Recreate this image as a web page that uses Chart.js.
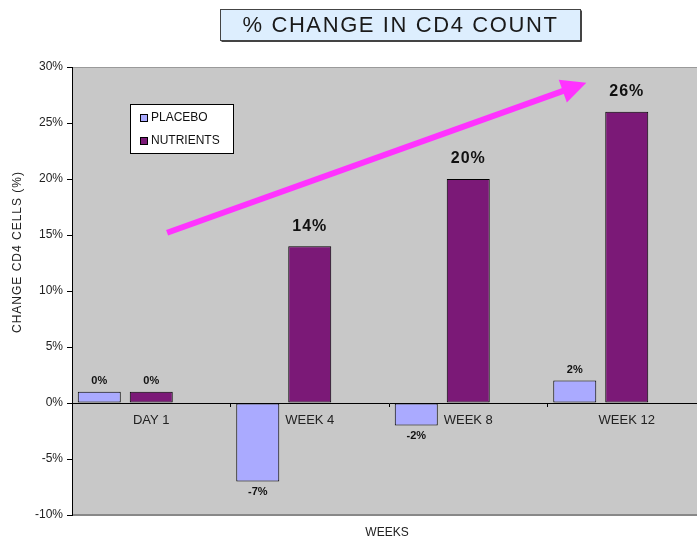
<!DOCTYPE html>
<html>
<head>
<meta charset="utf-8">
<script src="https://cdn.jsdelivr.net/npm/chart.js@4.4.0/dist/chart.umd.min.js"></script>
<style>
html, body { margin: 0; padding: 0; background: #fff; overflow: hidden; }
#wrap { width: 710px; height: 542px; }
</style>
</head>
<body>
<div id="wrap"><canvas id="cd4_chart" width="710" height="542"></canvas></div>
<script>
var categories = ["DAY 1", "WEEK 4", "WEEK 8", "WEEK 12"];
var placebo = [1, -7, -2, 2];
var nutrients = [1, 14, 20, 26];
var placeboLabels = ["0%", "-7%", "-2%", "2%"];
var nutrientLabels = ["0%", "14%", "20%", "26%"];
var yMin = -10, yMax = 30, yStep = 5;
// trend arrow in data units: [category index, percent]
var arrowFrom = [0.1, 15.2];
var arrowTo = [2.745, 28.6];

var FONT = "'Liberation Sans', Arial, sans-serif";
var PLOT_BG = "#c8c8c8";

var decor = {
    id: 'decor',
    beforeDraw: function (chart) {
        var c = chart.ctx, a = chart.chartArea;
        c.save();
        c.fillStyle = PLOT_BG;
        c.fillRect(a.left, a.top, a.right - a.left, a.bottom - a.top);
        c.strokeStyle = "#9a9a9a";
        c.lineWidth = 1;
        c.beginPath();
        c.moveTo(a.left, a.top + 0.5); c.lineTo(a.right, a.top + 0.5);
        c.stroke();
        c.strokeStyle = "#888";
        c.lineWidth = 2;
        c.beginPath();
        c.moveTo(a.left, a.bottom); c.lineTo(a.right, a.bottom);
        c.stroke();
        c.restore();
    },
    afterDatasetsDraw: function (chart) {
        var c = chart.ctx, a = chart.chartArea;
        var xs = chart.scales.x, ys = chart.scales.y;
        c.save();

        // value labels
        c.fillStyle = "#111";
        c.textAlign = "center";
        c.textBaseline = "middle";
        chart.getDatasetMeta(0).data.forEach(function (bar, i) {
            c.font = "bold 11px " + FONT;
            var y = placebo[i] >= 0 ? bar.y - 11 : bar.y + 11;
            c.fillText(placeboLabels[i], bar.x, y);
        });
        chart.getDatasetMeta(1).data.forEach(function (bar, i) {
            var big = nutrients[i] > 5;
            c.font = big ? "bold 16px " + FONT : "bold 11px " + FONT;
            c.letterSpacing = big ? "1px" : "0px";
            c.fillText(nutrientLabels[i], bar.x, bar.y - (big ? 20 : 11));
        });
        c.letterSpacing = "0px";

        // trend arrow
        var x1 = xs.getPixelForValue(arrowFrom[0]), y1 = ys.getPixelForValue(arrowFrom[1]);
        var x2 = xs.getPixelForValue(arrowTo[0]), y2 = ys.getPixelForValue(arrowTo[1]);
        var ang = Math.atan2(y2 - y1, x2 - x1);
        var headLen = 25, headW = 12;
        var bx = x2 - headLen * Math.cos(ang), by = y2 - headLen * Math.sin(ang);
        c.strokeStyle = "#ff33ff";
        c.fillStyle = "#ff33ff";
        c.lineWidth = 6;
        c.beginPath();
        c.moveTo(x1, y1);
        c.lineTo(bx + 2 * Math.cos(ang), by + 2 * Math.sin(ang));
        c.stroke();
        c.beginPath();
        c.moveTo(x2, y2);
        c.lineTo(bx + headW * Math.sin(ang), by - headW * Math.cos(ang));
        c.lineTo(bx - headW * Math.sin(ang), by + headW * Math.cos(ang));
        c.closePath();
        c.fill();

        // legend box inside plot
        var lx = a.left + 58, ly = a.top + 37;
        c.fillStyle = "#fff";
        c.fillRect(lx + 0.5, ly + 0.5, 103, 49);
        c.strokeStyle = "#000";
        c.lineWidth = 1;
        c.strokeRect(lx + 0.5, ly + 0.5, 103, 49);
        c.font = "12px " + FONT;
        c.textAlign = "left";
        c.textBaseline = "middle";
        chart.data.datasets.slice(0, 2).forEach(function (ds, i) {
            var ry = ly + 14 + i * 23;
            c.fillStyle = ds.backgroundColor;
            c.fillRect(lx + 10.5, ry - 3.5, 7, 7);
            c.strokeStyle = "#000";
            c.strokeRect(lx + 10.5, ry - 3.5, 7, 7);
            c.fillStyle = "#111";
            c.fillText(ds.label, lx + 21, ry);
        });

        // axis titles
        c.fillStyle = "#222";
        c.textAlign = "center";
        c.font = "12px " + FONT;
        c.fillText("WEEKS", (a.left + a.right) / 2 - 2, 533);
        c.save();
        c.translate(18, 252);
        c.rotate(-Math.PI / 2);
        c.letterSpacing = "1px";
        c.fillText("CHANGE CD4 CELLS (%)", 0, 0);
        c.restore();

        // chart title box
        var tx = 220.5, ty = 9.5, tw = 360, th = 31;
        c.fillStyle = "#ddeefe";
        c.fillRect(tx, ty, tw, th);
        c.strokeStyle = "#444";
        c.lineWidth = 1;
        c.strokeRect(tx, ty, tw, th);
        c.beginPath();
        c.moveTo(tx + 1, ty + th + 1); c.lineTo(tx + tw + 1, ty + th + 1); c.lineTo(tx + tw + 1, ty + 1);
        c.stroke();
        c.fillStyle = "#1a1a1a";
        c.font = "22px " + FONT;
        c.letterSpacing = "1.6px";
        c.fillText("% CHANGE IN CD4 COUNT", tx + tw / 2, ty + th / 2 + 1);
        c.restore();
    }
};

var ctx = document.getElementById("cd4_chart").getContext("2d");

new Chart(ctx, {
    type: 'bar',
    data: {
        labels: categories,
        datasets: [{
            label: "PLACEBO",
            data: placebo,
            backgroundColor: "#aaaaff",
            borderColor: "#000",
            borderWidth: 1,
            borderSkipped: false
        }, {
            label: "NUTRIENTS",
            data: nutrients,
            backgroundColor: "#7b1977",
            borderColor: "#000",
            borderWidth: 1,
            borderSkipped: false
        }, {
            // empty slot so the pair sits left of the category centre, as in the original
            label: "",
            data: categories.map(function () { return null; })
        }]
    },
    options: {
        responsive: false,
        animation: false,
        categoryPercentage: 0.984,
        barPercentage: 0.827,
        layout: {
            padding: { top: 67, bottom: 27, left: 0, right: 4 }
        },
        plugins: {
            legend: { display: false },
            title: { display: false },
            tooltip: { enabled: false }
        },
        scales: {
            x: {
                position: { y: 0 },
                offset: true,
                grid: {
                    display: true,
                    drawOnChartArea: false,
                    offset: true,
                    tickLength: 3,
                    color: "#000"
                },
                border: { color: "#000", width: 1 },
                ticks: {
                    color: "#222",
                    font: { family: FONT, size: 13 },
                    padding: 7,
                    maxRotation: 0
                }
            },
            y: {
                min: yMin,
                max: yMax,
                afterFit: function (scale) { scale.width = 72; },
                grid: {
                    drawOnChartArea: false,
                    tickLength: 5,
                    color: "#000"
                },
                border: { color: "#000", width: 1 },
                ticks: {
                    stepSize: yStep,
                    color: "#222",
                    padding: 4,
                    font: { family: FONT, size: 12 },
                    callback: function (v) { return v + "%"; }
                }
            }
        }
    },
    plugins: [decor]
});
</script>
</body>
</html>
